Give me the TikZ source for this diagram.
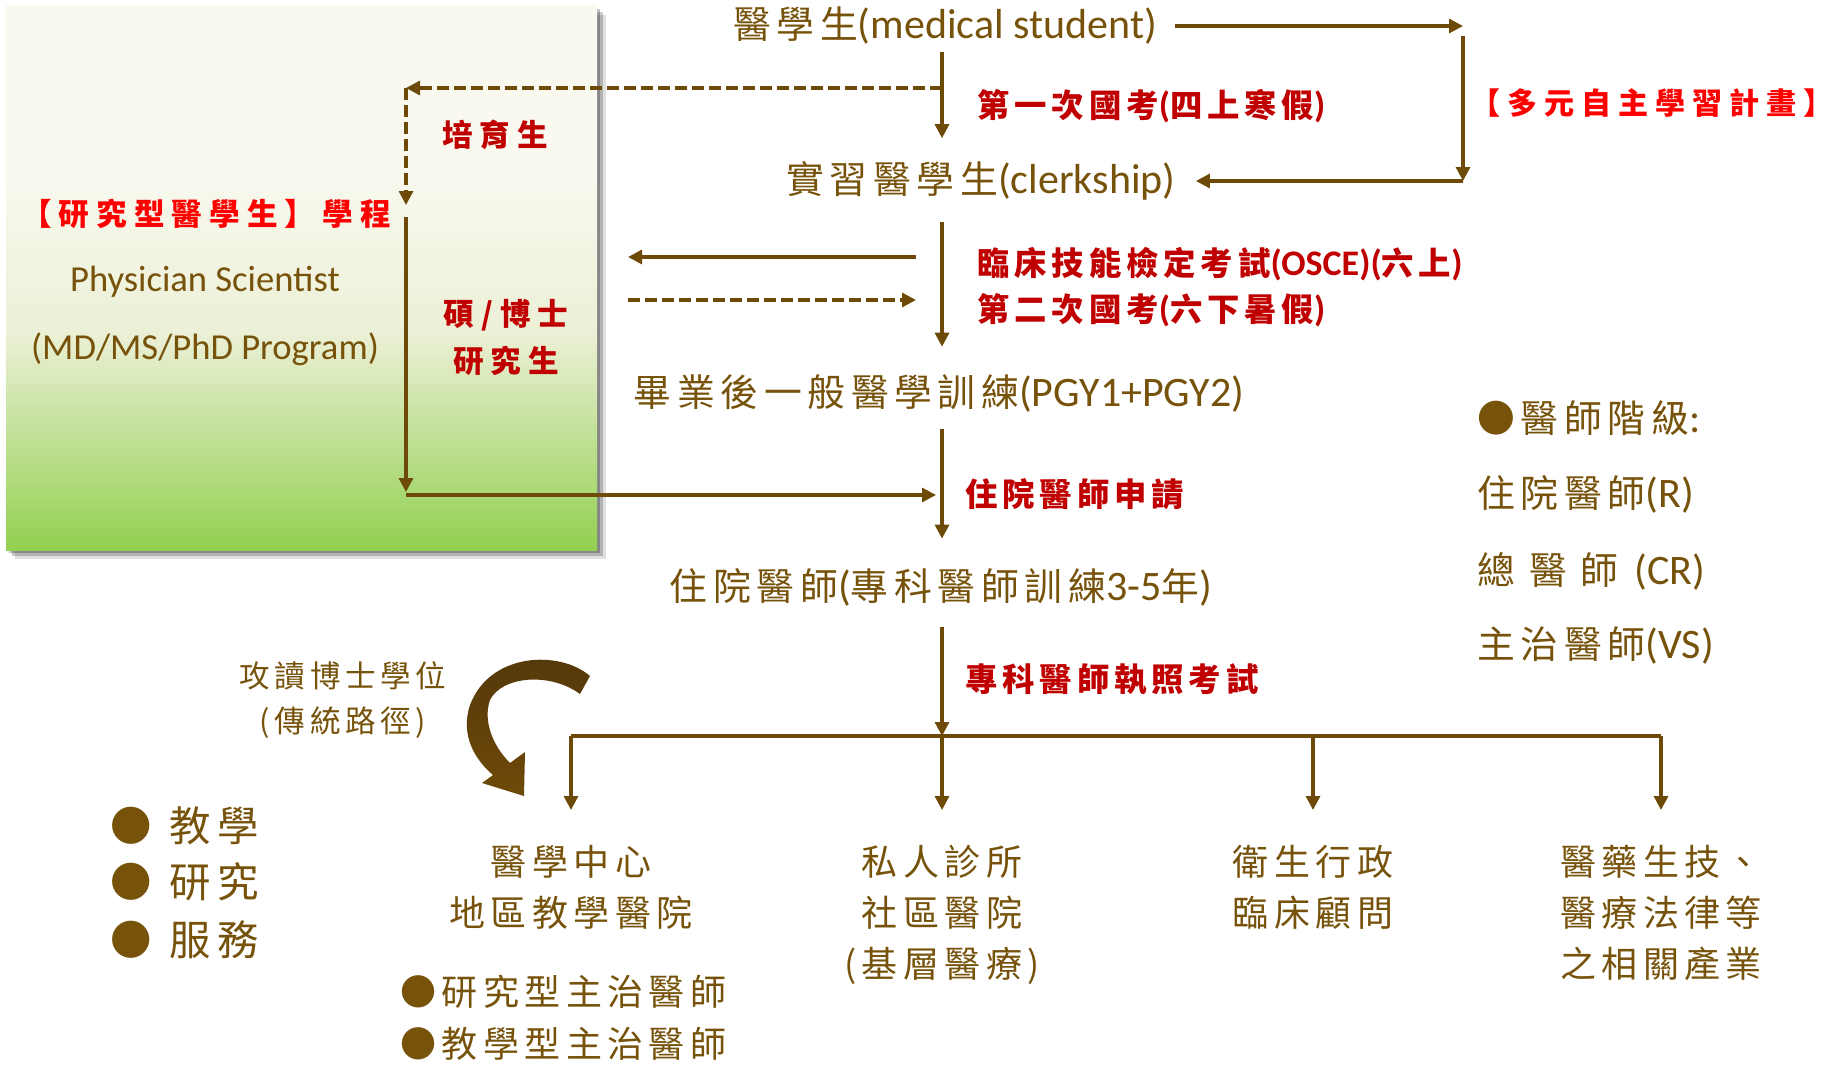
\documentclass[tikz,border=0pt]{standalone}
\usepackage{fontspec}
\setmainfont{Carlito}
\newfontfamily\cjk[Scale=0.9,LetterSpace=15]{Noto Sans CJK TC}
\newfontfamily\cjkwide[Scale=0.9,LetterSpace=23]{Noto Sans CJK TC}
\newcommand{\zh}[1]{{\cjk #1}}
\newcommand{\zw}[1]{{\cjkwide #1}}
\usetikzlibrary{arrows.meta}

\definecolor{flowbrown}{RGB}{118,82,10}
\definecolor{linebrown}{RGB}{110,74,8}
\definecolor{arrowdark}{RGB}{84,56,10}
\definecolor{examred}{RGB}{192,0,0}
\definecolor{brightred}{RGB}{255,0,0}
\definecolor{gtop}{RGB}{249,249,240}
\definecolor{gmid}{RGB}{236,240,214}
\definecolor{gbot}{RGB}{146,208,80}

\pgfdeclareverticalshading{boxgreen}{100bp}{color(0bp)=(gbot); color(25bp)=(gbot); color(45bp)=(gmid); color(60bp)=(gtop); color(100bp)=(gtop)}

\tikzstyle{flow}=[text=flowbrown,inner sep=0pt,font=\fontsize{21}{25.5}\selectfont]
\tikzstyle{dest}=[flow,anchor=north,align=center,font=\fontsize{20}{25.5}\selectfont\cjk]
\tikzstyle{exam}=[text=examred,inner sep=0pt,anchor=west,font=\fontsize{18}{22}\selectfont\bfseries]
\tikzstyle{track}=[text=brightred,inner sep=0pt,font=\fontsize{17}{23.5}\selectfont\bfseries]
\tikzstyle{edge}=[draw=linebrown,line width=1.6pt,-{Triangle[length=7pt,width=7pt]}]
\tikzstyle{dashed edge}=[edge,dash pattern=on 6pt off 2.5pt]

\begin{document}
\begin{tikzpicture}[x=0.5pt,y=-0.5pt]
     \useasboundingbox (0,0) rectangle (1835,1065);
     % research track box with its shadow
     \foreach \d/\o in {3/.25,6/.2,9/.12}
     \fill[black,opacity=\o] (6+\d,6+\d) rectangle (597+\d,550+\d);
     \shade[shading=boxgreen] (6,6) rectangle (597,550);

     % main career steps
     \node[flow] (med) at (945,26) {\zh{醫學生}(medical student)};
     \node[flow] (clerk) at (981,181) {\zh{實習醫學生}(clerkship)};
     \node[flow] (pgy) at (939,393) {\zh{畢業後一般醫學訓練}(PGY1+PGY2)};
     \node[flow] (res) at (941,587) {\zh{住院醫師}(\zh{專科醫師訓練}3-5\zh{年})};

     % exams along the way
     \node[exam] (exam1) at (977,106) {\zh{第一次國考}(\zh{四上寒假})};
     \node[exam] (osce) at (977,264) {\zh{臨床技能檢定考試}(OSCE)(\zh{六上})};
     \node[exam] (exam2) at (977,310) {\zh{第二次國考}(\zh{六下暑假})};
     \node[exam] (apply) at (965,494) {\zh{住院醫師申請}};
     \node[exam] (board) at (965,679) {\zh{專科醫師執照考試}};

     % tracks
     \node[track,font=\fontsize{16.7}{20}\selectfont\bfseries] (plan) at (1652,103) {\zw{【多元自主學習計畫】}};
     \node[track] (ps) at (206,214) {\zw{【研究型醫學生】學程}};
     \node[track,text=examred] (breed) at (495,135) {\zw{培育生}};
     \node[track,text=examred,align=center,font=\fontsize{17}{23.5}\selectfont\bfseries\cjkwide] (grad) at (506,337) {碩/博士\\研究生};
     \node[flow,font=\fontsize{18.3}{22}\selectfont] (phys) at (205,282) {Physician Scientist};
     \node[flow,font=\fontsize{18.3}{22}\selectfont] (mdphd) at (205,349) {(MD/MS/PhD Program)};

     % the spine
     \coordinate (spine) at (942,0);
     \coordinate (bus) at (942,736);
     \draw[edge,shorten <=3.5pt,shorten >=11.5pt] (med.south -| spine) -- (clerk.north -| spine);
     \draw[edge,shorten <=10.5pt,shorten >=13.5pt] (clerk.south -| spine) -- (pgy.north -| spine);
     \draw[edge,shorten <=8.5pt,shorten >=14.5pt] (pgy.south -| spine) -- (res.north -| spine);
     \draw[edge,shorten <=10.5pt] (res.south -| spine) -- (bus);

     % loop of the multi-track plan
     \coordinate (loopne) at (1463,26);
     \coordinate (loopse) at (1463,181);
     \draw[edge,shorten <=9pt] (med.east) -- (loopne);
     \draw[edge,shorten <=5pt] (loopne) -- (loopse);
     \draw[edge,shorten >=10pt] (loopse) -- (clerk.east);

     % physician scientist track
     \coordinate (brk) at (942,88);
     \coordinate (psne) at (406,88);
     \coordinate (psin) at (406,205);
     \coordinate (psout) at (406,217);
     \coordinate (pssw) at (406,495);
     \draw[dashed edge] (brk) -- (psne);
     \draw[dashed edge] (psne) -- (psin);
     \draw[edge,shorten >=1.5pt] (psout) -- (pssw);
     \draw[edge,shorten >=3pt] (pssw) -- (pssw -| spine);

     % leaving and coming back at the OSCE
     \coordinate (osceout) at (628,257);
     \coordinate (oscein) at (628,300);
     \draw[edge,shorten <=13pt] (osceout -| spine) -- (osceout);
     \draw[dashed edge,shorten >=13pt] (oscein) -- (oscein -| spine);

     % where they end up
     \foreach \x/\name/\txt in {571/medctr/{醫學中心\\地區教學醫院},
       942/clinic/{私人診所\\社區醫院\\(基層醫療)},
       1313/admin/{衛生行政\\臨床顧問},
       1661/industry/{醫藥生技、\\醫療法律等\\之相關產業}}
     \node[dest] (\name) at (\x,845) {\txt};
     \draw[draw=linebrown,line width=1.6pt] (medctr.north |- bus) -- (industry.north |- bus);
     \foreach \name in {medctr,clinic,admin,industry}
     \draw[edge,shorten >=17.5pt] (\name.north |- bus) -- (\name.north);

     \node[flow,anchor=west,align=left,font=\fontsize{20}{26}\selectfont\cjk] (attend) at (400,1018) {●研究型主治醫師\\●教學型主治醫師};

     % teaching, research, service
     \foreach \y/\name/\txt in {826/teach/教學, 882/research/研究, 940/service/服務}
     \node[flow,anchor=west,font=\fontsize{23}{26}\selectfont\cjk] (\name) at (110,\y) {●\hspace{9pt}\txt};

     % traditional route
     \node[flow,align=center,font=\fontsize{17}{22.5}\selectfont\cjk] (phd) at (343,700) {攻讀博士學位\\(傳統路徑)};
     \shade[top color=arrowdark,bottom color=linebrown] (590,676) .. controls (560,650) and (490,652) .. (470,705)
       .. controls (460,735) and (475,760) .. (493,775) -- (482,783) -- (524,796) -- (525,752) -- (510,763)
       .. controls (492,745) and (483,720) .. (490,700) .. controls (502,676) and (550,672) .. (580,694) -- cycle;

     % ranks
     \node[flow,anchor=west] (rank) at (1477,418) {\zh{●醫師階級}:};
     \node[flow,anchor=west] (rankr) at (1477,494) {\zh{住院醫師}(R)};
     \node[flow,anchor=west] (rankcr) at (1477,571) {\zh{總}\hspace{7pt}\zh{醫}\hspace{7pt}\zh{師}\hspace{8pt}(CR)};
     \node[flow,anchor=west] (rankvs) at (1477,646) {\zh{主治醫師}(VS)};
\end{tikzpicture}
\end{document}
